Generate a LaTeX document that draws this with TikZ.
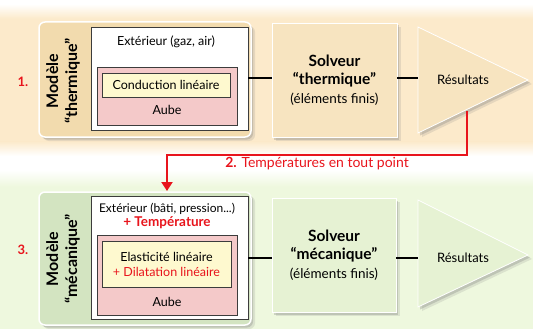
\documentclass[tikz,border=0pt]{standalone}
\usepackage{fontspec}
\setmainfont{Lato}
\usetikzlibrary{shadows,arrows.meta}
\definecolor{bandT}{HTML}{FCEACB}
\definecolor{boxT}{HTML}{F7E4C0}
\definecolor{labelT}{HTML}{F2DBAE}
\definecolor{bandM}{HTML}{EEF8DE}
\definecolor{boxM}{HTML}{E6F2D3}
\definecolor{labelM}{HTML}{D3E4C1}
\definecolor{pinkA}{HTML}{F4C9C9}
\definecolor{yelA}{HTML}{FEF9CF}
\definecolor{redA}{HTML}{E8141C}
\definecolor{frameA}{HTML}{3C3C3C}
\tikzset{
  shad/.style={drop shadow={shadow xshift=4pt,shadow yshift=-4pt,opacity=0.18},
               drop shadow={shadow xshift=2pt,shadow yshift=-2.5pt,opacity=0.3}},
  outerbox/.style={shad,draw=white,line width=1.5pt,rounded corners=6pt,inner sep=0pt},
  whitebox/.style={draw=frameA,line width=0.8pt,fill=white,inner sep=0pt},
  pinkbox/.style={draw=frameA,line width=0.8pt,fill=pinkA,inner sep=0pt},
  yelbox/.style={draw=frameA,line width=0.8pt,fill=yelA,inner sep=0pt,align=center,font=\fontsize{12.5}{15}\selectfont},
  solverbox/.style={shad,draw=white,line width=0.8pt,inner sep=0pt,align=center,font=\fontsize{13.5}{18.5}\selectfont},
  txt/.style={font=\fontsize{12.5}{15}\selectfont,inner sep=0pt,align=center},
  side/.style={rotate=90,font=\fontsize{16}{19}\selectfont\bfseries,align=center,inner sep=0pt},
  num/.style={text=redA,font=\fontsize{13}{15}\selectfont\bfseries,inner sep=0pt},
  link/.style={line width=2pt,black},
  tri/.style={shad,draw=white,line width=0.8pt}
}
\newcommand{\solvb}{\bfseries\fontsize{15.5}{18.5}\selectfont}
\begin{document}
\begin{tikzpicture}[x=1pt,y=-1pt]
\useasboundingbox (0,0) rectangle (533,329);
% bands
\fill[bandT] (0,18) rectangle (533,142);
\shade[top color=white,bottom color=bandT] (0,4) rectangle (533,18.5);
\shade[top color=bandT,bottom color=white] (0,141.5) rectangle (533,156);
\fill[bandM] (0,186) rectangle (533,329);
\shade[top color=white,bottom color=bandM] (0,170) rectangle (533,186.5);

% ---------- thermal row ----------
\node[outerbox,fill=labelT,minimum width=212pt,minimum height=115pt] (m1) at (145,79.5) {};
\node[whitebox,minimum width=157pt,minimum height=103pt] (w1) at (169.5,78.5) {};
\node[txt] (e1) at (166,42) {Extérieur (gaz, air)};
\node[pinkbox,minimum width=140pt,minimum height=58pt] (p1) at (167,96) {};
\node[yelbox,minimum width=128pt,minimum height=24pt] (y1) at (166,85) {Conduction linéaire};
\node[txt] (a1) at (167,110) {Aube};
\node[side] (l1) at (63,81) {Modèle\\“thermique”};
\node[num] (n1) at (23,82) {1.};

\node[solverbox,fill=boxT,minimum width=125pt,minimum height=114pt] (s1) at (334.5,80)
  {{\solvb Solveur}\\{\solvb “thermique”}\\(éléments finis)};
\coordinate (t1w) at (418,78);
\path[tri,fill=boxT] (418,27) -- (528,80) -- (418,133) -- cycle;
\node[txt,font=\fontsize{13}{15}\selectfont] (r1) at (463,80) {Résultats};
\draw[link] (w1.east |- 0,78) -- (s1.west |- 0,78);
\draw[link] (s1.east |- 0,78) -- (t1w);

% ---------- red transfer ----------
\coordinate (q1) at (467,110.5);
\coordinate (q2) at (167,191);
\draw[redA,line width=2pt,-{Triangle[width=11pt,length=9pt]}] (q1) -- (467,155) -| (q2);
\node[text=redA,font=\fontsize{14}{16}\selectfont,inner sep=0pt] (lab2) at (317,164)
  {\textbf{2.} Températures en tout point};

% ---------- mechanical row ----------
\node[outerbox,fill=labelM,minimum width=212pt,minimum height=133pt] (m2) at (145,258.5) {};
\node[whitebox,minimum width=157pt,minimum height=123pt] (w2) at (169.5,257.5) {};
\node[txt,font=\fontsize{12}{14}\selectfont] (e2) at (167,216) {Extérieur (bâti, pression...)\\\textcolor{redA}{\bfseries\fontsize{13.5}{14}\selectfont + Température}};
\node[pinkbox,minimum width=140pt,minimum height=80pt] (p2) at (167,275) {};
\node[yelbox,minimum width=129pt,minimum height=46pt] (y2) at (166.5,264) {Elasticité linéaire\\\textcolor{redA}{+ Dilatation linéaire}};
\node[txt] (a2) at (167,302) {Aube};
\node[side] (l2) at (63,259) {Modèle\\“mécanique”};
\node[num] (n2) at (23,250) {3.};

\node[solverbox,fill=boxM,minimum width=124pt,minimum height=114pt] (s2) at (334,255)
  {{\solvb Solveur}\\{\solvb “mécanique”}\\(éléments finis)};
\coordinate (t2w) at (418,258);
\path[tri,fill=boxM] (418,200) -- (528,255) -- (418,307) -- cycle;
\node[txt,font=\fontsize{13}{15}\selectfont] (r2) at (463,258) {Résultats};
\draw[link] (w2.east |- 0,258) -- (s2.west |- 0,258);
\draw[link] (s2.east |- 0,258) -- (t2w);
\end{tikzpicture}
\end{document}
